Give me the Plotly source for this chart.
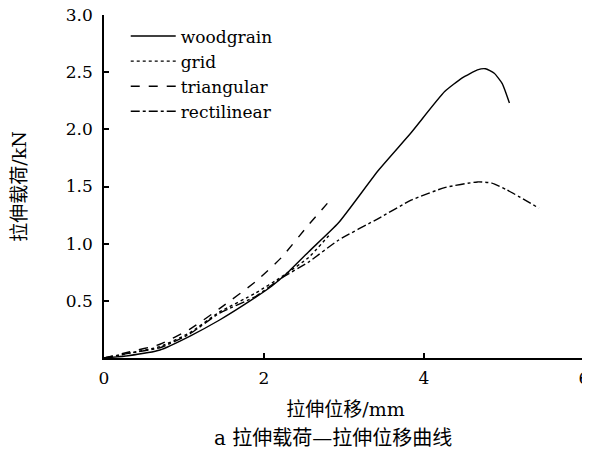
import plotly.graph_objects as go

# Woodgrain (solid)
wood_x = [0, 0.3, 0.7, 1.07, 1.44, 1.85, 2.1, 2.27, 2.56, 2.93, 3.43, 3.84, 4.26, 4.48, 4.67, 4.77, 4.88, 4.98, 5.07]
wood_y = [0, 0.02, 0.07, 0.19, 0.33, 0.51, 0.63, 0.73, 0.93, 1.18, 1.64, 1.97, 2.33, 2.45, 2.52, 2.53, 2.49, 2.40, 2.23]

# Grid (dotted)
grid_x = [0, 0.3, 0.7, 1.07, 1.44, 1.9, 2.22, 2.56, 2.81]
grid_y = [0, 0.04, 0.10, 0.22, 0.40, 0.57, 0.71, 0.88, 1.07]

# Triangular (dashed)
tri_x = [0, 0.3, 0.7, 1.07, 1.44, 1.9, 2.22, 2.54, 2.84]
tri_y = [0, 0.05, 0.12, 0.25, 0.43, 0.67, 0.88, 1.15, 1.39]

# Rectilinear (dash-dot)
rect_x = [0, 0.3, 0.7, 1.07, 1.44, 1.9, 2.22, 2.56, 2.93, 3.43, 3.84, 4.26, 4.67, 4.85, 5.04, 5.44]
rect_y = [0, 0.04, 0.09, 0.21, 0.39, 0.54, 0.70, 0.84, 1.03, 1.22, 1.38, 1.49, 1.54, 1.53, 1.47, 1.31]

x_ticks = [0, 2, 4, 6]
y_ticks = [0.5, 1.0, 1.5, 2.0, 2.5, 3.0]
y_tick_text = ["0.5", "1.0", "1.5", "2.0", "2.5", "3.0"]

FONT = "DejaVu Serif, Noto Sans CJK SC, serif"

fig = go.Figure()
series = [
    ("woodgrain", wood_x, wood_y, "solid"),
    ("grid", grid_x, grid_y, "dot"),
    ("triangular", tri_x, tri_y, "dash"),
    ("rectilinear", rect_x, rect_y, "dashdot"),
]
for name, xs, ys, dash in series:
    fig.add_trace(go.Scatter(x=xs, y=ys, mode="lines", name=name,
                             line=dict(color="black", width=1.4, dash=dash, shape="spline", smoothing=0.5)))

# page body has an 8px default margin, so the figure is 8px smaller and margins shifted
fig.update_layout(
    width=582, height=442,
    margin=dict(l=96, r=3, t=7, b=92),
    paper_bgcolor="white", plot_bgcolor="white",
    font=dict(family=FONT, size=17, color="black"),
    showlegend=True,
    legend=dict(x=0.045, y=0.99, xanchor="left", yanchor="top",
                bgcolor="rgba(0,0,0,0)", font=dict(size=17), tracegroupgap=0,
                itemwidth=45),
    xaxis=dict(range=[0, 6.04], tickvals=x_ticks, ticks="inside", ticklen=5,
               showline=True, linecolor="black", linewidth=1.5, showgrid=False,
               zeroline=False, tickcolor="black", tickwidth=1.5, automargin=False,
               ticklabeloverflow="allow", ticklabelstandoff=4,
               title=dict(text="拉伸位移/mm", standoff=16, font=dict(size=19))),
    yaxis=dict(range=[0, 3.0001], tickvals=y_ticks, ticktext=y_tick_text, ticks="inside", ticklen=5,
               showline=True, linecolor="black", linewidth=1.5, showgrid=False,
               zeroline=False, tickcolor="black", tickwidth=1.5, automargin=False,
               ticklabeloverflow="allow", ticklabelstandoff=6,
               title=dict(text="拉伸载荷/kN", standoff=36, font=dict(size=19))),
)
fig.add_annotation(text="a 拉伸载荷—拉伸位移曲线", xref="paper", yref="paper",
                   x=0.475, y=-0.233, xanchor="center", yanchor="middle",
                   showarrow=False, font=dict(size=20))

fig.write_html("out.html")
